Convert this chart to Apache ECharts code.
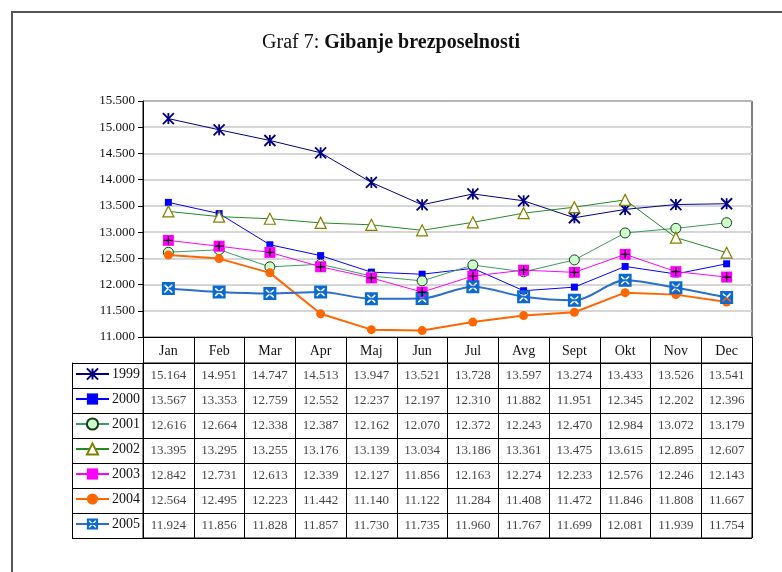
<!DOCTYPE html>
<html>
<head>
<meta charset="utf-8">
<script src="https://cdn.jsdelivr.net/npm/echarts@6/dist/echarts.min.js"></script>
<style>
html,body{margin:0;padding:0;background:#fff;}
#frame{position:absolute;left:11px;top:11px;width:800px;height:600px;border-left:2px solid #555;border-top:2px solid #555;box-sizing:border-box;}
#chart{position:absolute;left:0;top:0;width:782px;height:572px;}
</style>
</head>
<body>
<div id="frame"></div>
<div id="chart"></div>
<script>
const months = ['Jan','Feb','Mar','Apr','Maj','Jun','Jul','Avg','Sept','Okt','Nov','Dec'];
const years = ['1999','2000','2001','2002','2003','2004','2005'];
const v1999 = [15164,14951,14747,14513,13947,13521,13728,13597,13274,13433,13526,13541];
const v2000 = [13567,13353,12759,12552,12237,12197,12310,11882,11951,12345,12202,12396];
const v2001 = [12616,12664,12338,12387,12162,12070,12372,12243,12470,12984,13072,13179];
const v2002 = [13395,13295,13255,13176,13139,13034,13186,13361,13475,13615,12895,12607];
const v2003 = [12842,12731,12613,12339,12127,11856,12163,12274,12233,12576,12246,12143];
const v2004 = [12564,12495,12223,11442,11140,11122,11284,11408,11472,11846,11808,11667];
const v2005 = [11924,11856,11828,11857,11730,11735,11960,11767,11699,12081,11939,11754];
const yMin = 11000, yMax = 15500, yStep = 500;

const allValues = [v1999,v2000,v2001,v2002,v2003,v2004,v2005];
const fmt = v => (v/1000).toFixed(3);
const FONT = '"Liberation Serif", "Times New Roman", serif';

const starPath = 'path://M0,0L10,10M10,0L0,10M5,0L5,10';
const plusPath = 'path://M5,1L5,9M1,5L9,5';
const squareX = 'path://M0,0L10,0L10,10L0,10Z M1.6,2.4L4,5L1.6,7.6L2.4,8.4L5,6L7.6,8.4L8.4,7.6L6,5L8.4,2.4L7.6,1.6L5,4L2.4,1.6Z';

const styles = [
  {line:'#000080', lw:1, symbol:starPath, size:11, item:{color:'#000080', borderColor:'#000080', borderWidth:1.8}},
  {line:'#0000ff', lw:1, symbol:'rect', size:7, item:{color:'#0000ff'}},
  {line:'#3a9a62', lw:1, symbol:'circle', size:10, item:{color:'#ccffcc', borderColor:'#1a3a1a', borderWidth:1}},
  {line:'#228b22', lw:1, symbol:'triangle', size:11, item:{color:'#ffffff', borderColor:'#808000', borderWidth:1.2}},
  {line:'#ff00ff', lw:1, symbol:'rect', size:11, item:{color:'#ff00ff'}},
  {line:'#ff6600', lw:2, symbol:'circle', size:9, item:{color:'#ff6600'}},
  {line:'#2a6fc9', lw:2, symbol:squareX, size:13, item:{color:'#0a6ad0'}, smooth:0.3}
];

const series = [];
years.forEach((y,i)=>{
  const s = styles[i];
  series.push({
    name:y, type:'line', xAxisIndex:0, yAxisIndex:0,
    data: allValues[i],
    symbol: s.symbol, symbolSize: s.size, showAllSymbol:true,
    smooth: s.smooth || false,
    lineStyle:{color:s.line, width:s.lw},
    itemStyle: s.item,
    z: 3 + i
  });
});
// black plus overlay for 2003 markers
series.push({
  name:'2003+', type:'line', xAxisIndex:0, yAxisIndex:0,
  data: v2003, symbol: plusPath, symbolSize: 9, showAllSymbol:true,
  lineStyle:{opacity:0}, itemStyle:{color:'#000', borderColor:'#000', borderWidth:1.2},
  z: 20, silent:true
});
// table cells
const cells = [];
allValues.forEach((arr,yi)=>arr.forEach((v,mi)=>cells.push([months[mi], years[yi], v])));
series.push({
  name:'cells', type:'scatter', xAxisIndex:1, yAxisIndex:1,
  data: cells, symbolSize:1, itemStyle:{color:'transparent'},
  label:{show:true, position:'inside', formatter: p => fmt(p.value[2]),
    fontFamily:FONT, fontSize:13, color:'#111'},
  silent:true
});

const chart = echarts.init(document.getElementById('chart'), null, {renderer:'canvas'});
chart.setOption({
  backgroundColor:'transparent',
  animation:false,
  title:{
    text:'{n|Graf 7: }{b|Gibanje brezposelnosti}',
    left:'center', top:28,
    textStyle:{fontWeight:'normal', rich:{
      n:{fontFamily:FONT, fontSize:20, fontWeight:'normal', color:'#111'},
      b:{fontFamily:FONT, fontSize:20, fontWeight:'bold', color:'#111'}
    }}
  },
  legend:{
    orient:'vertical', left:75, top:367,
    itemWidth:33, itemHeight:14, itemGap:11, padding:0,
    data: years,
    textStyle:{fontFamily:FONT, fontSize:14, color:'#111', padding:[0,0,0,-2]}
  },
  grid:[
    {left:143, top:101, width:609, height:236, show:true, borderColor:'#000', borderWidth:1, containLabel:false},
    {left:143, top:363, width:609, height:175, show:true, borderColor:'#000', borderWidth:1, containLabel:false}
  ],
  xAxis:[
    {type:'category', gridIndex:0, data:months, boundaryGap:true,
     axisLine:{show:true, lineStyle:{color:'#000', width:1}},
     axisTick:{show:true, interval:0, length:26, lineStyle:{color:'#000'}},
     axisLabel:{interval:0, margin:7, fontFamily:FONT, fontSize:14, color:'#111'},
     splitLine:{show:false}},
    {type:'category', gridIndex:1, data:months, boundaryGap:true,
     axisLine:{show:false}, axisTick:{show:false}, axisLabel:{show:false},
     splitLine:{show:true, interval:0, lineStyle:{color:'#000', width:1}}}
  ],
  yAxis:[
    {type:'value', gridIndex:0, min:yMin, max:yMax, interval:yStep,
     axisLine:{show:true, lineStyle:{color:'#000'}},
     axisTick:{show:true, length:5, lineStyle:{color:'#000'}},
     axisLabel:{margin:8, fontFamily:FONT, fontSize:13, color:'#111', formatter: v => fmt(v)},
     splitLine:{show:true, lineStyle:{color:'#c8c8c8', width:1.5}}},
    {type:'category', gridIndex:1, data:years, inverse:true, offset:71,
     axisLine:{show:true, lineStyle:{color:'#000'}},
     axisTick:{show:true, inside:true, interval:0, length:71, lineStyle:{color:'#000'}},
     axisLabel:{show:false},
     splitLine:{show:true, interval:0, lineStyle:{color:'#000', width:1}}}
  ],
  series: series
});
</script>
</body>
</html>
